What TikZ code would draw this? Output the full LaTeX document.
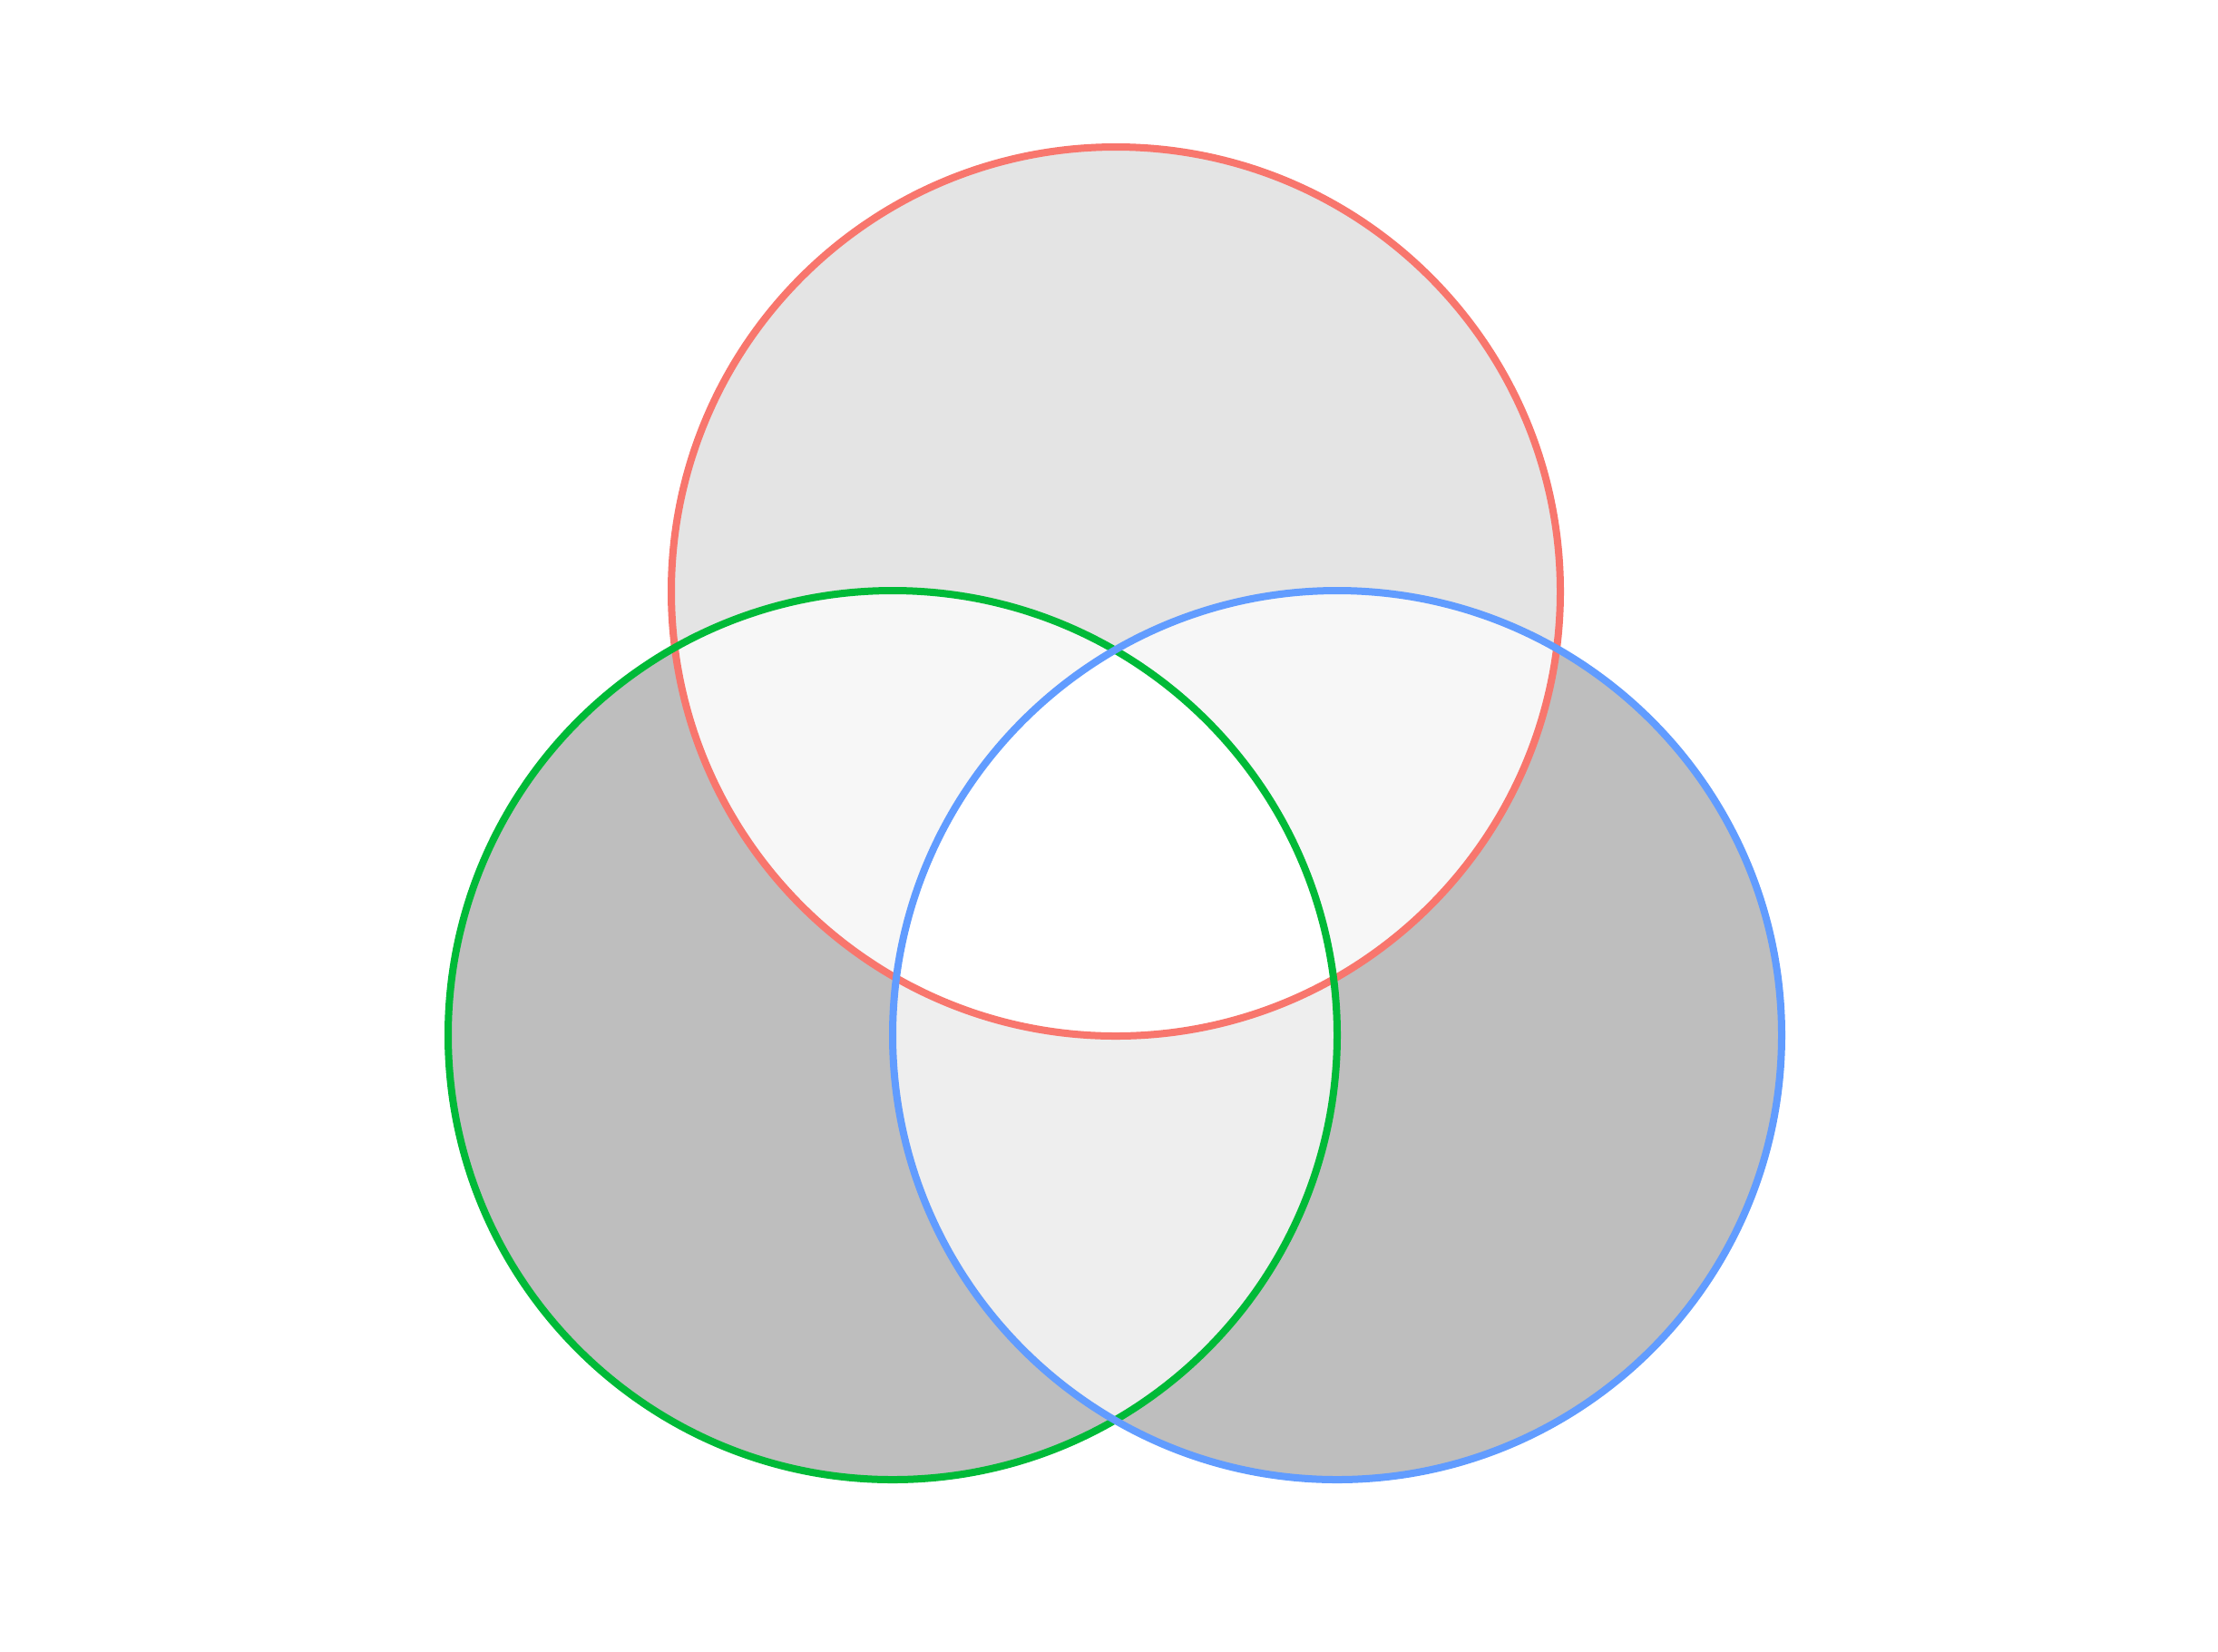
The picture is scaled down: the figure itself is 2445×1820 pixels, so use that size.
\documentclass[tikz,border=0pt]{standalone}
\usepackage{tikz}
\usetikzlibrary{calc}
\definecolor{setred}{HTML}{F8766D}
\definecolor{setgreen}{HTML}{00BA38}
\definecolor{setblue}{HTML}{619CFF}
\definecolor{onlyone}{HTML}{BEBEBE}
\definecolor{onlytop}{HTML}{E4E4E4}
\definecolor{pairtop}{HTML}{F7F7F7}
\definecolor{pairlow}{HTML}{EEEEEE}

\begin{document}
\begin{tikzpicture}[
    x=0.01cm, y=-0.01cm,
    edge/.style={line width=0.08cm, line join=round},
    rad/.store in=\rad, rad=490
]
\useasboundingbox (0,0) rectangle (2445,1820);
\coordinate (A) at (1230,652);
\coordinate (B) at (984,1141);
\coordinate (C) at (1474,1141);

% single sets
\fill[onlytop] (A) circle[radius=\rad];
\fill[onlyone] (B) circle[radius=\rad];
\fill[onlyone] (C) circle[radius=\rad];
% pairs
\begin{scope}
  \clip (A) circle[radius=\rad];
  \fill[pairtop] (B) circle[radius=\rad];
  \fill[pairtop] (C) circle[radius=\rad];
\end{scope}
\begin{scope}
  \clip (B) circle[radius=\rad];
  \fill[pairlow] (C) circle[radius=\rad];
\end{scope}
% all three
\begin{scope}
  \clip (A) circle[radius=\rad];
  \clip (B) circle[radius=\rad];
  \fill[white] (C) circle[radius=\rad];
\end{scope}

% outlines
\draw[edge, setred] (A) circle[radius=\rad];
\draw[edge, setgreen] (B) circle[radius=\rad];
\draw[edge, setblue] (C) circle[radius=\rad];
\end{tikzpicture}
\end{document}
